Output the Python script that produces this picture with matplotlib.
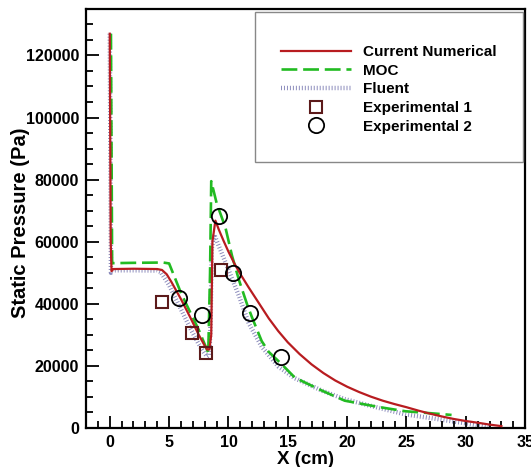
import matplotlib
matplotlib.use("Agg")
import matplotlib.pyplot as plt
from matplotlib.patches import Rectangle
from matplotlib.ticker import MultipleLocator

plt.rcParams["font.family"] = ["Liberation Sans", "DejaVu Sans"]
plt.rcParams["font.weight"] = "bold"

# Current numerical solution
red_x = [0.0, 0.08, 0.15, 0.3, 2.0, 4.0, 4.4, 4.8, 5.2, 6.0, 6.8, 7.5, 8.0, 8.2,
         8.4, 8.55, 8.65, 8.9, 9.2, 9.6, 10.0, 10.5, 11.0, 11.7, 12.5, 13.4,
         14.2, 15.0, 16.0, 17.0, 18.0, 19.0, 20.0, 21.0, 22.0, 23.0, 24.0, 25.0,
         26.0, 27.0, 28.0, 29.0, 30.0, 31.0, 32.0, 33.0]
red_y = [127000, 60000, 50500, 51200, 51300, 51200, 50900, 49500, 47000, 41500,
         35500, 30000, 26500, 25300, 25300, 30000, 60000, 66800, 63800, 60200,
         56800, 53000, 49600, 45300, 40600, 35300, 31200, 27600, 23800, 20500,
         17700, 15300, 13300, 11600, 10100, 8800, 7700, 6700, 5600, 4600, 3700,
         2900, 2250, 1700, 1100, 600]

# Method of characteristics
moc_x = [0.1, 0.2, 0.3, 2.0, 4.5, 5.0, 6.0, 7.0, 7.5, 8.3, 8.45, 8.55, 9.0,
         9.75, 10.3, 10.9, 11.6, 12.0, 12.8, 13.4, 14.5, 15.6, 17.9, 19.8, 22.6,
         24.9, 27.9, 28.8]
moc_y = [127000, 53000, 53100, 53200, 53300, 53000, 43500, 35500, 31600, 24200,
         50000, 79500, 72500, 64500, 55500, 47500, 39500, 35500, 28000, 24500,
         20500, 16200, 12000, 8800, 6800, 5400, 4500, 4200]

# Fluent
flu_x = [0.0, 0.1, 0.2, 0.5, 2.0, 4.0, 4.3, 5.0, 5.9, 6.8, 7.5, 8.0, 8.2, 8.4,
         8.5, 8.6, 8.8, 9.2, 10.0, 10.9, 11.7, 12.8, 14.2, 15.6, 17.9, 19.8,
         21.8, 24.9, 27.4, 30.0, 31.9]
flu_y = [127000, 50000, 50700, 50800, 50800, 50700, 50200, 46000, 39000, 32000,
         27000, 24000, 23000, 23500, 35000, 58000, 62300, 58500, 51000, 42400,
         33800, 26200, 19800, 16000, 12000, 9300, 7300, 4400, 3000, 1500, 300]

exp1_x = [4.4, 6.9, 8.1, 9.4]
exp1_y = [40700, 30500, 24200, 50900]

exp2_x = [5.8, 7.8, 9.2, 10.4, 11.8, 14.4]
exp2_y = [41800, 36300, 68200, 49900, 37000, 23000]

fig = plt.figure(figsize=(5.31, 4.67), dpi=100)
ax = fig.add_axes([0.162, 0.0835, 0.827, 0.8975])

ax.plot(red_x, red_y, color="#b81c20", lw=1.6, label="Current Numerical", zorder=3)
ax.plot(moc_x, moc_y, color="#22bb22", lw=1.9, ls=(0, (6, 2.2)), label="MOC", zorder=2)
ax.plot(flu_x, flu_y, color="#8c8cbc", lw=3.2, ls=(0, (0.22, 0.45)),
        dash_capstyle="butt", label="Fluent", zorder=1)
ax.plot(exp1_x, exp1_y, ls="none", marker="s", ms=8, mfc="none", mec="#5c1a1a",
        mew=1.5, label="Experimental 1", zorder=4)
ax.plot(exp2_x, exp2_y, ls="none", marker="o", ms=11, mfc="none", mec="black",
        mew=1.3, label="Experimental 2", zorder=4)

ax.set_xlim(-2, 35)
ax.set_ylim(0, 135000)
ax.xaxis.set_major_locator(MultipleLocator(5))
ax.xaxis.set_minor_locator(MultipleLocator(1))
ax.yaxis.set_major_locator(MultipleLocator(20000))
ax.yaxis.set_minor_locator(MultipleLocator(5000))
ax.tick_params(which="both", direction="in", width=1.3, labelsize=11.5, pad=5)
ax.tick_params(which="major", length=9)
ax.tick_params(which="minor", length=5)
for s in ax.spines.values():
    s.set_linewidth(1.6)

ax.set_xlabel("X (cm)", fontsize=13.5, fontweight="bold", labelpad=0.5)
ax.set_ylabel("Static Pressure (Pa)", fontsize=14.5, fontweight="bold")
ax.yaxis.set_label_coords(-0.128, 0.489)

# legend box: frame drawn separately so it can have more room above and below
ax.add_patch(Rectangle((0.385, 0.635), 0.6104, 0.358, transform=ax.transAxes,
                       fill=True, facecolor="white", edgecolor="#888888",
                       lw=1.0, zorder=5))
leg = ax.legend(loc="center", bbox_to_anchor=(0.689, 0.808), fontsize=11,
                handlelength=4.6, handletextpad=0.8, borderpad=0.2,
                labelspacing=0.3, frameon=False)
leg.set_zorder(6)
for t in leg.get_texts():
    t.set_fontweight("bold")

fig.savefig("out.png", dpi=100)
